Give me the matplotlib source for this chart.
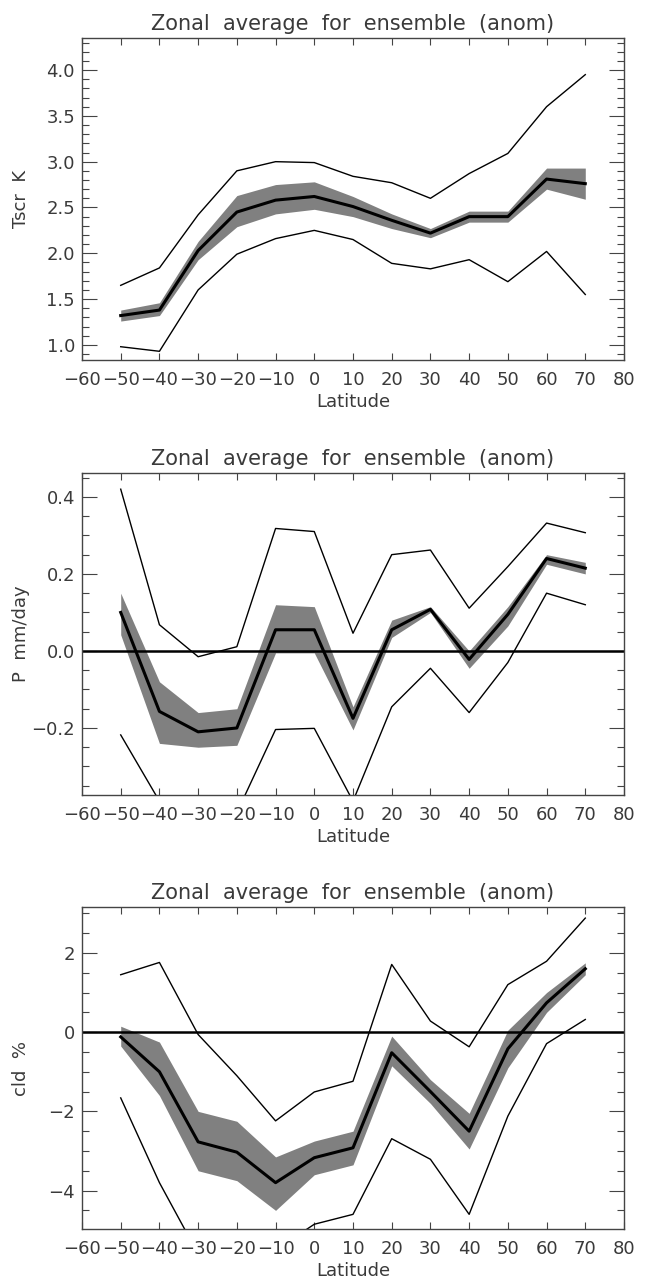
import numpy as np
import matplotlib
matplotlib.use("Agg")
import matplotlib.pyplot as plt
from matplotlib.ticker import MultipleLocator

lat = [-50, -40, -30, -20, -10, 0, 10, 20, 30, 40, 50, 60, 70]

# screen temperature anomaly (K)
tscr_mean = [1.32, 1.38, 2.03, 2.45, 2.58, 2.62, 2.51, 2.36, 2.22, 2.40, 2.40, 2.81, 2.76]
tscr_lo = [1.26, 1.32, 1.93, 2.29, 2.43, 2.48, 2.40, 2.27, 2.17, 2.34, 2.34, 2.70, 2.59]
tscr_hi = [1.38, 1.46, 2.13, 2.63, 2.75, 2.78, 2.62, 2.43, 2.27, 2.46, 2.46, 2.93, 2.93]
tscr_max = [1.65, 1.84, 2.42, 2.90, 3.00, 2.99, 2.84, 2.77, 2.60, 2.87, 3.09, 3.60, 3.95]
tscr_min = [0.98, 0.93, 1.60, 1.99, 2.16, 2.25, 2.15, 1.89, 1.83, 1.93, 1.69, 2.02, 1.55]

# precipitation anomaly (mm/day)
p_mean = [0.100, -0.157, -0.210, -0.200, 0.055, 0.055, -0.175, 0.055, 0.108, -0.022, 0.095, 0.240, 0.215]
p_lo = [0.042, -0.240, -0.250, -0.245, -0.005, -0.005, -0.205, 0.035, 0.100, -0.045, 0.065, 0.225, 0.200]
p_hi = [0.150, -0.080, -0.160, -0.150, 0.120, 0.115, -0.145, 0.080, 0.115, 0.000, 0.115, 0.250, 0.230]
p_max = [0.420, 0.068, -0.015, 0.011, 0.318, 0.310, 0.046, 0.250, 0.262, 0.111, 0.219, 0.332, 0.307]
p_min = [-0.218, -0.390, -0.450, -0.420, -0.204, -0.201, -0.390, -0.145, -0.045, -0.160, -0.030, 0.150, 0.120]

# cloud anomaly (%)
cld_mean = [-0.12, -1.00, -2.77, -3.03, -3.80, -3.17, -2.92, -0.52, -1.50, -2.50, -0.42, 0.74, 1.60]
cld_lo = [-0.35, -1.60, -3.50, -3.75, -4.50, -3.60, -3.35, -0.85, -1.80, -2.95, -0.90, 0.50, 1.45]
cld_hi = [0.15, -0.25, -2.00, -2.25, -3.15, -2.75, -2.50, -0.10, -1.20, -2.05, 0.05, 1.00, 1.75]
cld_max = [1.45, 1.76, -0.06, -1.10, -2.24, -1.51, -1.24, 1.71, 0.28, -0.37, 1.20, 1.79, 2.88]
cld_min = [-1.66, -3.80, -5.60, -6.20, -5.50, -4.85, -4.60, -2.69, -3.21, -4.60, -2.12, -0.29, 0.32]

title = "Zonal  average  for  ensemble  (anom)"
xticks = [-60, -50, -40, -30, -20, -10, 0, 10, 20, 30, 40, 50, 60, 70, 80]

W, H = 648, 1282
fig = plt.figure(figsize=(W / 100, H / 100), dpi=100)
txt = '#3a3a3a'


def panel(top_px, mean, lo, hi, vmax, vmin, ylim, major, minor, ylabel, fmt, zero_line):
    ax = fig.add_axes([82 / W, 1 - (top_px + 322) / H, 542 / W, 322 / H])
    ax.fill_between(lat, lo, hi, color='#808080', lw=0, zorder=1)
    ax.plot(lat, vmax, color='black', lw=1.0, zorder=2)
    ax.plot(lat, vmin, color='black', lw=1.0, zorder=2)
    ax.plot(lat, mean, color='black', lw=2.2, zorder=3)
    if zero_line:
        ax.axhline(0, color='black', lw=1.8, zorder=2)
    ax.set_xlim(-60, 80)
    ax.set_ylim(*ylim)
    ax.set_xticks(xticks)
    ax.set_xticklabels([f'{v:d}'.replace('-', '\u2212') for v in xticks])
    ax.yaxis.set_major_locator(MultipleLocator(major))
    ax.yaxis.set_minor_locator(MultipleLocator(minor))
    ax.yaxis.set_major_formatter(plt.FuncFormatter(lambda v, p: (fmt % v).replace('-', '\u2212')))
    ax.tick_params(axis='x', which='major', direction='in', top=True, length=5, width=0.8,
                   labelsize=13, colors='#444444', labelcolor=txt, pad=8)
    ax.tick_params(axis='y', which='major', direction='in', right=True, length=11, width=0.8,
                   labelsize=13, colors='#444444', labelcolor=txt, pad=5)
    ax.tick_params(axis='y', which='minor', direction='in', right=True, length=5, width=0.8,
                   colors='#444444')
    for s in ax.spines.values():
        s.set_color('#444444')
        s.set_linewidth(1.0)
    ax.set_title(title, fontsize=15, color=txt, pad=6)
    ax.set_xlabel('Latitude', fontsize=13, color=txt, labelpad=3)
    ax.set_ylabel(ylabel, fontsize=13, color=txt)
    ax.yaxis.set_label_coords(-0.096, 0.5)
    return ax


panel(38, tscr_mean, tscr_lo, tscr_hi, tscr_max, tscr_min, (0.835, 4.35), 0.5, 0.1,
      'Tscr  K', '%.1f', False)
panel(473, p_mean, p_lo, p_hi, p_max, p_min, (-0.374, 0.462), 0.2, 0.05,
      'P  mm/day', '%.1f', True)
panel(907, cld_mean, cld_lo, cld_hi, cld_max, cld_min, (-4.97, 3.16), 2, 0.5,
      'cld  %', '%d', True)

fig.savefig('out.png', dpi=100)
